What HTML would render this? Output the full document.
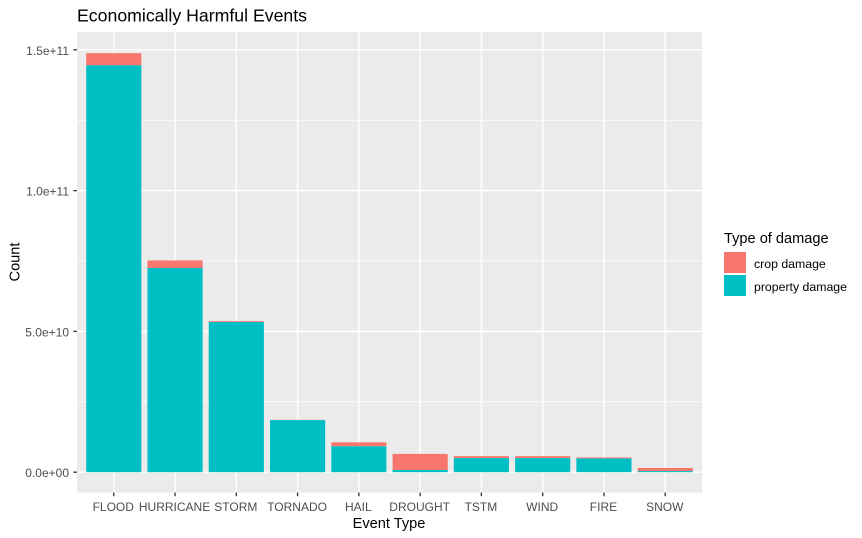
<!DOCTYPE html>
<html lang="en">
<head>
<meta charset="utf-8">
<title>Economically Harmful Events</title>
<style>
html,body{margin:0;padding:0;background:#fff;width:862px;height:538px;overflow:hidden}
svg{display:block;font-family:"Liberation Sans",Arial,sans-serif}
</style>
</head>
<body>
<svg id="chart" xmlns="http://www.w3.org/2000/svg" width="862" height="538" viewBox="0 0 862 538">
  <rect x="77" y="32" width="625" height="460.5" fill="#ebebeb"/>
  <g id="grid"></g>
  <g id="bars"></g>
  <g id="axes"></g>
  <text x="77" y="21.5" font-size="17.7px" fill="#000">Economically Harmful Events</text>
  <text x="389" y="528" font-size="14.6px" text-anchor="middle" fill="#000">Event Type</text>
  <text transform="translate(19.5,262) rotate(-90)" font-size="14.6px" text-anchor="middle" fill="#000">Count</text>
  <g>
    <text x="724" y="243" font-size="14.6px" fill="#000">Type of damage</text>
    <rect x="724" y="252" width="22" height="21" fill="#f8766d"/>
    <rect x="724" y="275" width="22" height="21" fill="#00bfc4"/>
    <text x="754" y="268" font-size="12.3px" fill="#000">crop damage</text>
    <text x="754" y="291" font-size="12.3px" fill="#000">property damage</text>
  </g>
</svg>
<script>
const categories = ["FLOOD","HURRICANE","STORM","TORNADO","HAIL","DROUGHT","TSTM","WIND","FIRE","SNOW"];
const propertyDamage = [144.5e9,72.5e9,53.3e9,18.5e9,9.2e9,0.8e9,5.0e9,5.0e9,4.9e9,0.4e9];
const cropDamage = [4.3e9,2.7e9,0.35e9,0.1e9,1.4e9,5.7e9,0.7e9,0.7e9,0.35e9,1.1e9];
const yTickValues = [0,5e10,1e11,1.5e11];
const yTickLabels = ["0.0e+00","5.0e+10","1.0e+11","1.5e+11"];
const yMinorValues = [2.5e10,7.5e10,1.25e11];

const NS = "http://www.w3.org/2000/svg";
const panelLeft = 77, panelRight = 702, panelTop = 32, panelBottom = 492.5;
const xStep = (panelRight - panelLeft) / (categories.length + 0.2);
function xScale(i){ return panelLeft + (i + 0.6) * xStep; }
function yScale(v){ return 472.2 - v * 2.816e-9; }
function make(tag, attrs, parent){
  const el = document.createElementNS(NS, tag);
  for (const k in attrs) el.setAttribute(k, attrs[k]);
  parent.appendChild(el);
  return el;
}
const grid = document.getElementById("grid");
const bars = document.getElementById("bars");
const axes = document.getElementById("axes");

yMinorValues.forEach(function(v){
  const y = yScale(v);
  const el = make("line", {x1:panelLeft, x2:panelRight, y1:y, y2:y, stroke:"#fff", "stroke-width":0.75}, grid);
  
  
});
yTickValues.forEach(function(v, i){
  const y = yScale(v);
  const g = make("line", {x1:panelLeft, x2:panelRight, y1:y, y2:y, stroke:"#fff", "stroke-width":1.45}, grid);
  
  
  const t = make("line", {x1:panelLeft-3.7, x2:panelLeft, y1:y, y2:y, stroke:"#333", "stroke-width":1.3}, axes);
  
  
  const l = make("text", {x:panelLeft-8, y:y+5, "font-size":"12px", "text-anchor":"end", fill:"#4d4d4d"}, axes);
  
  
  l.textContent = yTickLabels[i];
});
categories.forEach(function(name, i){
  const x = xScale(i);
  const g = make("line", {x1:x, x2:x, y1:panelTop, y2:panelBottom, stroke:"#fff", "stroke-width":1.45}, grid);
  
  
  const t = make("line", {x1:x, x2:x, y1:panelBottom, y2:panelBottom+3.7, stroke:"#333", "stroke-width":1.3}, axes);
  
  
  const l = make("text", {x:x-0.5, y:511, "font-size":"12px", "text-anchor":"middle", fill:"#4d4d4d"}, axes);
  
  
  l.textContent = name;

  const w = xStep * 0.9;
  const yProp = yScale(propertyDamage[i]);
  const yTop = yScale(propertyDamage[i] + cropDamage[i]);
  const crop = make("rect", {x:x-w/2, y:yTop, width:w, height:yProp-yTop, fill:"#f8766d"}, bars);
  
  
  const prop = make("rect", {x:x-w/2, y:yProp, width:w, height:yScale(0)-yProp, fill:"#00bfc4"}, bars);
  
  
});
</script>
</body>
</html>
